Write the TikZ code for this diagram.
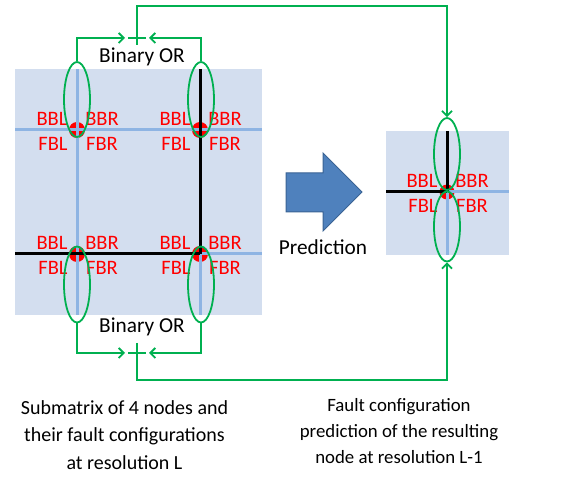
\documentclass[tikz,border=0pt]{standalone}
\usepackage{fontspec}
\setmainfont{Carlito}
\usetikzlibrary{shapes.geometric,arrows.meta,calc}
\definecolor{panelfill}{HTML}{D3DEEF}
\definecolor{gridblue}{HTML}{8EB4E3}
\definecolor{okgreen}{HTML}{00B050}
\definecolor{arrowfill}{HTML}{4F81BD}
\definecolor{arrowedge}{HTML}{3A6394}
\tikzset{
  panel/.style={fill=panelfill, draw=none},
  gline/.style={gridblue, line width=3},
  bline/.style={black, line width=3},
  dot/.style={circle, fill=red, minimum size=16pt, inner sep=0pt, draw=none},
  lobe/.style={ellipse, draw=okgreen, line width=1.8pt, inner sep=0pt,
               minimum width=26pt, minimum height=75pt},
  wire/.style={okgreen, line width=1.8pt},
  wirearrow/.style={wire, -{Straight Barb[length=5pt,width=10pt,line width=1.8pt]}},
  fc/.style={text=red, font=\fontsize{20.5}{22}\selectfont, inner sep=0pt},
  caption/.style={font=\fontsize{21.3}{27}\selectfont, align=center, inner sep=0pt},
}
\begin{document}
\begin{tikzpicture}[x=1pt, y=-1pt]
\useasboundingbox (0,0) rectangle (579,478);

% ---------- left panel: 2x2 submatrix ----------
\fill[panel] (15,69) rectangle (262,315);
\coordinate (p1) at (77,130);
\coordinate (p2) at (200,130);
\coordinate (p3) at (77,254);
\coordinate (p4) at (200,254);
\foreach \p in {p1,p2,p3,p4} \node[dot] at (\p) {};
\draw[gline] (77,69) -- (77,315);
\draw[gline] (15,130) -- (262,130);
\draw[gline] (p4) -- (200,315);
\draw[gline] (p4) -- (262,254);
\draw[bline] (200,69) -- (p4);
\draw[bline] (15,254) -- (p4);

% ---------- right panel: resulting node ----------
\fill[panel] (386,131) rectangle (509,255);
\coordinate (q) at (447,192);
\node[dot, minimum size=15pt] at (q) {};
\draw[gline] (q) -- (509,192);
\draw[gline] (q) -- (447,255);
\draw[bline] (386,192) -- (q);
\draw[bline] (447,131) -- (q);

% ---------- fault configuration labels ----------
\foreach \p in {p1,p2,p3,p4,q} {
  \node[fc] at ($(\p)+(-25,-11)$) {BBL};
  \node[fc] at ($(\p)+(25,-11)$) {BBR};
  \node[fc] at ($(\p)+(-24,14)$) {FBL};
  \node[fc] at ($(\p)+(25,14)$) {FBR};
}

% ---------- green lobes ----------
\node[lobe] (e1) at (77,99.5) {};
\node[lobe] (e2) at (201,99.5) {};
\node[lobe, minimum height=76pt] (e3) at (77,284.5) {};
\node[lobe, minimum height=76pt] (e4) at (201,284.5) {};
\node[lobe, minimum height=72pt] (e5) at (447,154) {};
\node[lobe, minimum height=70pt] (e6) at (447,226.5) {};

% ---------- binary OR junctions ----------
\coordinate (jt) at (137,38);
\coordinate (jb) at (137,353);
\coordinate (ttop) at (137,6);
\coordinate (tbot) at (137,380);

\draw[wirearrow] (e1.north) |- ($(jt)+(-12,0)$);
\draw[wirearrow] (e2.north) |- ($(jt)+(12,0)$);
\draw[wire] ($(jt)+(-9,0)$) -- ($(jt)+(9,0)$);
\draw[wirearrow] ($(jt)+(0,7)$) -- (ttop) -| (e5.north);

\draw[wirearrow] (e3.south) |- ($(jb)+(-12,0)$);
\draw[wirearrow] (e4.south) |- ($(jb)+(12,0)$);
\draw[wire] ($(jb)+(-9,0)$) -- ($(jb)+(9,0)$);
\draw[wirearrow] ($(jb)+(0,-10)$) -- (tbot) -| (e6.south);

\node[caption] (ortop) at (142,57) {Binary OR};
\node[caption] (orbot) at (142,327) {Binary OR};

% ---------- prediction arrow ----------
\draw[fill=arrowfill, draw=arrowedge, line width=1pt]
  (286,173) -- (323,173) -- (323,153) -- (362,192) -- (323,231)
  -- (323,212) -- (286,212) -- cycle;
\node[caption] (pred) at (323,247) {Prediction};

% ---------- captions ----------
\node[caption, font=\fontsize{20}{27.5}\selectfont] (capl) at (124.5,435)
  {Submatrix of 4 nodes and\\their fault configurations\\at resolution L};
\node[caption, font=\fontsize{18.8}{26}\selectfont] (capr) at (399,431)
  {Fault configuration\\prediction of the resulting\\node at resolution L-1};
\end{tikzpicture}
\end{document}
